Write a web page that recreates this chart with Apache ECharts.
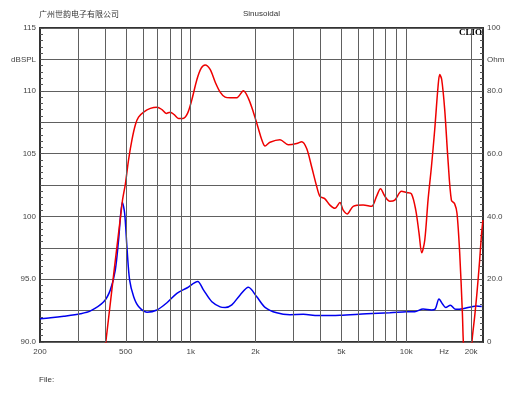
<!DOCTYPE html>
<html><head><meta charset="utf-8">
<script src="https://cdn.jsdelivr.net/npm/echarts@6/dist/echarts.min.js"></script>
<style>html,body{margin:0;padding:0;background:#fff}#c{width:530px;height:398px}</style>
</head><body><div id="c"></div>
<script>
// SPL curve (dB, left axis)
const redFreq = [380,404,482,498,515,534,554,573,605,650,698,736,770,804,839,878,921,967,1013,1069,1119,1167,1231,1299,1370,1445,1524,1637,1756,1852,1954,2060,2137,2213,2334,2596,2838,3103,3274,3452,3640,3840,3978,4196,4426,4668,4924,5100,5322,5674,6312,6902,7280,7596,7958,8390,8848,9506,10024,10572,11070,11466,11802,12184,12620,13086,13552,14038,14296,14604,15080,15618,16194,16772,17194,17696,18214,18400,19270,20170,20760,21280,21900,22300,22680];
const redDb   = [86.1,90.0,101.2,102.6,104.5,106.1,107.3,107.9,108.3,108.6,108.7,108.5,108.2,108.3,108.1,107.8,107.8,108.2,109.3,110.9,111.8,112.05,111.7,110.7,109.9,109.5,109.45,109.45,110.0,109.4,108.3,107.0,106.1,105.6,105.9,106.1,105.7,105.8,105.95,105.4,103.95,102.4,101.6,101.4,100.9,100.65,101.1,100.5,100.2,100.8,100.9,100.8,101.6,102.2,101.6,101.2,101.3,102.0,101.9,101.8,100.5,98.65,97.1,98.1,101.3,103.95,106.9,110.3,111.3,110.9,108.5,104.5,101.3,101.0,100.25,97.1,92.3,90.0,84.0,90.0,92.0,93.9,96.5,98.4,99.7];
// Impedance curve (Ohm, right axis)
const blueFreq = [200,224,258,308,343,395,424,447,463,482,494,507,521,544,573,627,698,776,863,960,1078,1146,1254,1370,1445,1552,1696,1852,2026,2213,2507,2888,3330,3894,4924,6544,8390,10024,10950,11968,13086,13626,14188,14760,15240,16020,16952,18320,21140,22400];
const blueOhm  = [7.4,7.7,8.2,9.0,9.9,12.8,16.6,22.9,32.5,44.5,41.0,29.5,19.7,14.4,11.3,9.5,10.2,12.5,15.5,17.2,19.3,16.6,12.8,11.2,11.0,11.8,15.0,17.4,14.4,11.05,9.3,8.7,8.8,8.4,8.5,9.0,9.3,9.6,9.65,10.5,10.2,10.5,13.7,12.0,11.0,11.7,10.4,10.6,11.5,11.3];
// Vertical grid frequencies and x labels
const gridFreqs = [300,400,500,600,700,800,900,1000,2000,3000,4000,5000,6000,7000,8000,9000,10000,20000];
const xLabelFreqs = [200,500,1000,2000,5000,10000,15000,20000];
const xLabelTexts = ['200','500','1k','2k','5k','10k','Hz','20k'];
// Y labels
const leftTicks = {115:'115',112.5:'dBSPL',110:'110',105:'105',100:'100',95:'95.0',90:'90.0'};
const rightTicks = {100:'100',90:'Ohm',80:'80.0',60:'60.0',40:'40.0',20:'20.0',0:'0'};

const FONT = '"Liberation Sans", Arial, sans-serif';
const FS = 8;
const red = redFreq.map((f,i)=>[f,redDb[i]]);
const blue = blueFreq.map((f,i)=>[f,blueOhm[i]]);

const mlData = [];
gridFreqs.forEach(f=>{
  const li = xLabelFreqs.indexOf(f);
  mlData.push({xAxis:f, name: li>=0 ? xLabelTexts[li] : '', label:{show: li>=0}});
});
xLabelFreqs.forEach((f,i)=>{
  if(gridFreqs.indexOf(f)<0){
    mlData.push({xAxis:f, name:xLabelTexts[i], label:{show:true}, lineStyle:{color:'rgba(0,0,0,0)'}});
  }
});

const chart = echarts.init(document.getElementById('c'));
chart.setOption({
  animation:false,
  backgroundColor:'#fff',
  title:[
    {text:'广州世韵电子有限公司', left:39, top:10, padding:0, textStyle:{fontSize:8, fontWeight:'normal', color:'#333', fontFamily:'"Noto Sans CJK SC", sans-serif'}},
    {text:'Sinusoidal', left:243, top:10, padding:0, textStyle:{fontSize:FS, fontWeight:'normal', color:'#333', fontFamily:FONT}},
    {text:'CLIO', right:48, top:28, padding:0, textStyle:{fontSize:9, fontWeight:'bold', color:'#000', fontFamily:'"Liberation Serif","DejaVu Serif",serif'}},
    {text:'File:', left:39, top:376, padding:0, textStyle:{fontSize:FS, fontWeight:'normal', color:'#333', fontFamily:FONT}}
  ],
  grid:{left:40, right:47, top:28, bottom:56, show:true, borderColor:'#333', borderWidth:2, backgroundColor:'#fff'},
  xAxis:{type:'log', logBase:10, min:200, max:22700,
    axisLine:{show:false}, axisTick:{show:false}, axisLabel:{show:false}, splitLine:{show:false}, minorSplitLine:{show:false}},
  yAxis:[
    {type:'value', min:90, max:115, interval:2.5, position:'left',
     axisLine:{show:false},
     axisTick:{show:true, inside:true, length:4, lineStyle:{color:'#555'}},
     minorTick:{show:true, splitNumber:5, length:3, lineStyle:{color:'#555'}},
     axisLabel:{margin:4, fontSize:FS, color:'#444', fontFamily:FONT, formatter:v=>leftTicks[v]!==undefined?leftTicks[v]:''},
     splitLine:{show:true, lineStyle:{color:'#606060', width:1}}},
    {type:'value', min:0, max:100, interval:10, position:'right',
     axisLine:{show:false},
     axisTick:{show:true, inside:true, length:4, lineStyle:{color:'#555'}},
     minorTick:{show:true, splitNumber:5, length:3, lineStyle:{color:'#555'}},
     axisLabel:{margin:4, fontSize:FS, color:'#444', fontFamily:FONT, formatter:v=>rightTicks[v]!==undefined?rightTicks[v]:''},
     splitLine:{show:false}}
  ],
  series:[
    {type:'line', data:[], z:1, silent:true,
     markLine:{silent:true, symbol:'none', animation:false,
       lineStyle:{color:'#606060', width:1, type:'solid'},
       label:{position:'start', formatter:'{b}', fontSize:FS, color:'#444', fontFamily:FONT, distance:6},
       emphasis:{disabled:true},
       data:mlData}},
    {type:'line', name:'Ohm', yAxisIndex:1, data:blue, showSymbol:false, smooth:0.3, z:3,
     lineStyle:{color:'#0000ee', width:1.5}, clip:true},
    {type:'line', name:'SPL', yAxisIndex:0, data:red, showSymbol:false, smooth:0.3, z:4,
     lineStyle:{color:'#ee0000', width:1.5}, clip:true}
  ]
});
</script></body></html>
